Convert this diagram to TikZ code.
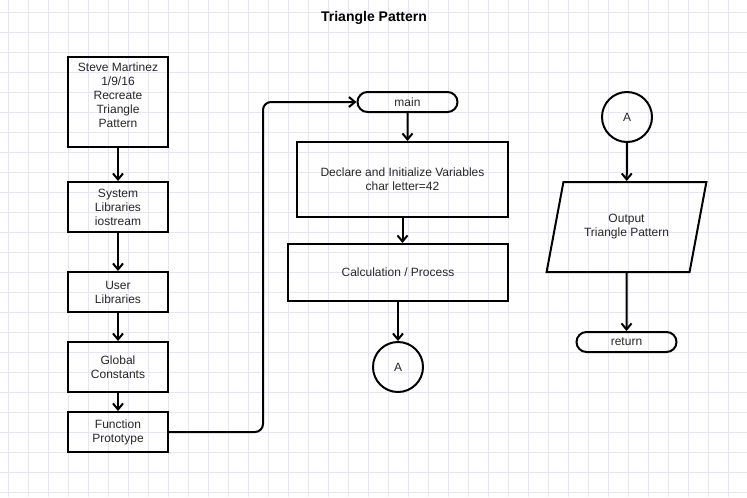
\documentclass[tikz,border=0pt]{standalone}
\usepackage{fontspec}
\setmainfont{Liberation Sans}
\usetikzlibrary{arrows.meta,shapes.geometric,shapes.misc}
\definecolor{gridline}{RGB}{229,229,244}
\definecolor{ink}{RGB}{38,38,38}
\begin{document}
\begin{tikzpicture}[x=0.75pt,y=-0.75pt,
  every node/.style={font=\fontsize{9}{10.5}\selectfont,text=ink,align=center},
  block/.style={draw,line width=1.5pt,inner sep=0pt,minimum width=75pt},
  terminal/.style={draw,line width=1.5pt,rounded rectangle,inner sep=0pt,minimum width=75pt,minimum height=15pt},
  connector/.style={draw,line width=1.5pt,circle,inner sep=0pt,minimum size=37.5pt},
  io/.style={draw,line width=1.5pt,trapezium,trapezium left angle=65.5,trapezium right angle=114.5,
    trapezium stretches=true,inner sep=0pt,minimum width=120.75pt,minimum height=67.5pt},
  flow/.style={line width=1.5pt,-{Straight Barb[length=4.5pt,width=7.5pt]}}]
 \useasboundingbox (0,0) rectangle (747,497);
 \foreach \gx in {8,28,...,747} \draw[gridline,line width=0.6pt] (\gx,0) -- (\gx,497);
 \foreach \gy in {12,32,...,497} \draw[gridline,line width=0.6pt] (0,\gy) -- (747,\gy);
 \node[font=\fontsize{10.5}{12}\selectfont\bfseries,text=black] (title) at (374,18) {Triangle Pattern};
 \node[block,minimum height=67.5pt,
   label={[anchor=north,yshift=-1.5pt]north:Steve Martinez\\1/9/16\\Recreate\\Triangle\\Pattern}]
   (head) at (118,102) {};
 \node[block,minimum height=37.5pt] (syslib) at (118,207) {System\\Libraries\\iostream};
 \node[block,minimum height=30pt] (usrlib) at (118,292) {User\\Libraries};
 \node[block,minimum height=37.5pt] (consts) at (118,367) {Global\\Constants};
 \node[block,minimum height=30pt] (proto) at (118,432) {Function\\Prototype};
 \node[terminal] (main) at (407.5,102) {main};
 \node[block,minimum width=158.25pt,minimum height=56.25pt] (decl) at (402.5,179.5)
   {Declare and Initialize Variables\\char letter=42};
 \node[block,minimum width=165pt,minimum height=42.75pt] (calc) at (398,272.5) {Calculation / Process};
 \node[connector] (outA) at (398,367) {A};
 \node[connector] (inA) at (627,117) {A};
 \node[io] (out) at (626.5,227) {Output\\Triangle Pattern};
 \node[terminal] (ret) at (626.5,342) {return};
 \coordinate (jog) at (263,102);
 \draw[flow] (head) -- (syslib);
 \draw[flow] (syslib) -- (usrlib);
 \draw[flow] (usrlib) -- (consts);
 \draw[flow] (consts) -- (proto);
 \draw[flow,rounded corners=6pt] (proto.east) -| (jog) -- (main.west);
 \draw[flow] (main) -- (main.south |- decl.north);
 \draw[flow] (decl.south) -- (decl.south |- calc.north);
 \draw[flow] (calc) -- (outA);
 \draw[flow] (inA) -- (out);
 \draw[flow] (out) -- (ret);
\end{tikzpicture}
\end{document}
